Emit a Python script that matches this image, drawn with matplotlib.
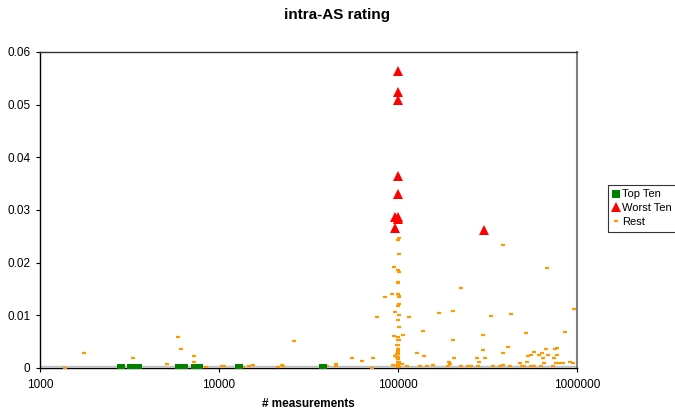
import numpy as np
import matplotlib.pyplot as plt
from matplotlib.ticker import FixedLocator, FixedFormatter, NullLocator

plt.rcParams['font.family'] = ['Liberation Sans', 'DejaVu Sans']

# Top Ten (green squares)
top_x = [2845, 3211, 3541, 6000, 6400, 6400, 7372, 7761, 12990, 37960]
top_y = [0, 0, 0, 0, 0, 0, 0, 0, 0, 0]

# Worst Ten (red triangles)
worst_x = [100000, 100000, 100000, 100000, 100000, 96200, 100000, 100000, 96200, 300000]
worst_y = [0.0563, 0.0523, 0.0509, 0.0365, 0.0330, 0.0287, 0.0287, 0.0283, 0.0265, 0.0261]

# Rest (orange dashes)
rest_x = [1380, 1768, 2920, 3320, 5140, 5880, 6130, 7250, 7250, 8460,
          10350, 10660, 13670, 14770, 15430, 21280, 22400, 22870, 26140, 39970,
          44870, 44870, 55340, 62700, 71860, 72780, 76330, 84600, 92220, 95000,
          96200, 95300, 96200, 93900, 101000, 101000, 101000, 99500, 101000, 101000,
          100000, 101000, 100000, 101000, 99500, 99500, 99500, 99500, 99500, 99500,
          101000, 99500, 100000, 100000, 100000, 101000, 100000, 99500, 101000, 99000,
          100000, 99000, 100500, 99000, 100500, 99500, 100000, 99000, 101000, 100000,
          106200, 105700, 112700, 115700, 128200, 132700, 138500, 139700, 145800, 157500,
          170100, 189500, 193400, 194900, 202900, 202900, 204200, 224900, 224900, 247000,
          255700, 275300, 280900, 283900, 297300, 297300, 307400, 340800, 371400, 384500,
          387500, 387500, 410100, 422500, 428000, 332100, 480500, 491100, 507700, 517000,
          523600, 534500, 551200, 554900, 577400, 575000, 613300, 635000, 631000, 648100,
          652000, 668400, 682400, 690000, 737200, 753500, 770200, 770200, 746800, 764000,
          796300, 838500, 860300, 914000, 953500, 957000]
rest_y = [0.0000, 0.0028, 0.0003, 0.0018, 0.0008, 0.0058, 0.0036, 0.0023, 0.0012, 0.0001,
          0.0003, 0.0003, 0.0001, 0.0004, 0.0006, 0.0001, 0.0006, 0.0003, 0.0051, 0.0004,
          0.0007, 0.0003, 0.0018, 0.0013, 0.0000, 0.0019, 0.0096, 0.0134, 0.0140, 0.0191,
          0.0107, 0.0060, 0.0022, 0.0005, 0.0247, 0.0217, 0.0183, 0.0164, 0.0136, 0.0122,
          0.0117, 0.0101, 0.0091, 0.0077, 0.0053, 0.0044, 0.0036, 0.0028, 0.0021, 0.0017,
          0.0011, 0.0006, 0.0186, 0.0162, 0.0141, 0.0135, 0.0243, 0.0058, 0.0053, 0.0043,
          0.0036, 0.0026, 0.0026, 0.0021, 0.0012, 0.0009, 0.0001, 0.0003, 0.0001, 0.0032,
          0.0063, 0.0008, 0.0004, 0.0096, 0.0028, 0.0003, 0.0071, 0.0023, 0.0003, 0.0005,
          0.0105, 0.0004, 0.0012, 0.0007, 0.0109, 0.0053, 0.0019, 0.0152, 0.0003, 0.0004,
          0.0003, 0.0018, 0.0003, 0.0011, 0.0063, 0.0034, 0.0018, 0.0004, 0.0003, 0.0029,
          0.0234, 0.0006, 0.0039, 0.0004, 0.0103, 0.0099, 0.0010, 0.0003, 0.0003, 0.0067,
          0.0012, 0.0023, 0.0025, 0.0003, 0.0003, 0.0031, 0.0025, 0.0029, 0.0004, 0.0018,
          0.0009, 0.0036, 0.0190, 0.0025, 0.0004, 0.0036, 0.0037, 0.0025, 0.0018, 0.0009,
          0.0010, 0.0010, 0.0068, 0.0012, 0.0009, 0.0112]

x_ticks = [1000, 10000, 100000, 1000000]
y_ticks = [0, 0.01, 0.02, 0.03, 0.04, 0.05, 0.06]
y_labels = ['0', '0.01', '0.02', '0.03', '0.04', '0.05', '0.06']

fig = plt.figure(figsize=(6.75, 4.12), dpi=100)
ax = fig.add_axes([0.0593, 0.107, 0.7957, 0.767])

ax.plot(rest_x, rest_y, linestyle='none', marker='_', color='#FF9900',
        markersize=3.2, markeredgewidth=1.6, label='Rest', zorder=3)
ax.plot(top_x, top_y, linestyle='none', marker='s', color='#007F00',
        markersize=5.5, markeredgewidth=0, label='Top Ten', zorder=4)
ax.plot(worst_x, worst_y, linestyle='none', marker='^', color='#FF0000',
        markersize=6.5, markeredgewidth=0, label='Worst Ten', zorder=4)

ax.set_xscale('log')
ax.set_xlim(1000, 1000000)
ax.set_ylim(0, 0.06)
ax.xaxis.set_major_locator(FixedLocator(x_ticks))
ax.xaxis.set_major_formatter(FixedFormatter([str(v) for v in x_ticks]))
ax.xaxis.set_minor_locator(NullLocator())
ax.yaxis.set_major_locator(FixedLocator(y_ticks))
ax.yaxis.set_major_formatter(FixedFormatter(y_labels))
ax.tick_params(axis='both', direction='out', length=3, width=0.8,
               labelsize=8.5, colors='black', pad=4)
ax.tick_params(axis='x', pad=5)

for side in ['left', 'bottom']:
    ax.spines[side].set_color('black')
    ax.spines[side].set_linewidth(1.0)
ax.spines['top'].set_color('#333333')
ax.spines['top'].set_linewidth(1.0)
ax.spines['right'].set_color('#808080')
ax.spines['right'].set_linewidth(1.5)
ax.axhline(0.0003, color='#C0C0C0', linewidth=1.0, zorder=1)

ax.set_xlabel('# measurements', fontsize=8.5, fontweight='bold', labelpad=5)
fig.suptitle('intra-AS rating', fontsize=11, fontweight='bold', y=0.98)

handles, labels = ax.get_legend_handles_labels()
order = [1, 2, 0]
leg = fig.legend([handles[i] for i in order], [labels[i] for i in order],
                 loc='upper left', bbox_to_anchor=(0.9, 0.551), fontsize=8,
                 frameon=True, fancybox=False, borderpad=0.4, labelspacing=0.35,
                 handlelength=0.7, handletextpad=0.25, borderaxespad=0)
leg.get_frame().set_edgecolor('black')
leg.get_frame().set_linewidth(0.8)

fig.savefig('out.png', dpi=100)
